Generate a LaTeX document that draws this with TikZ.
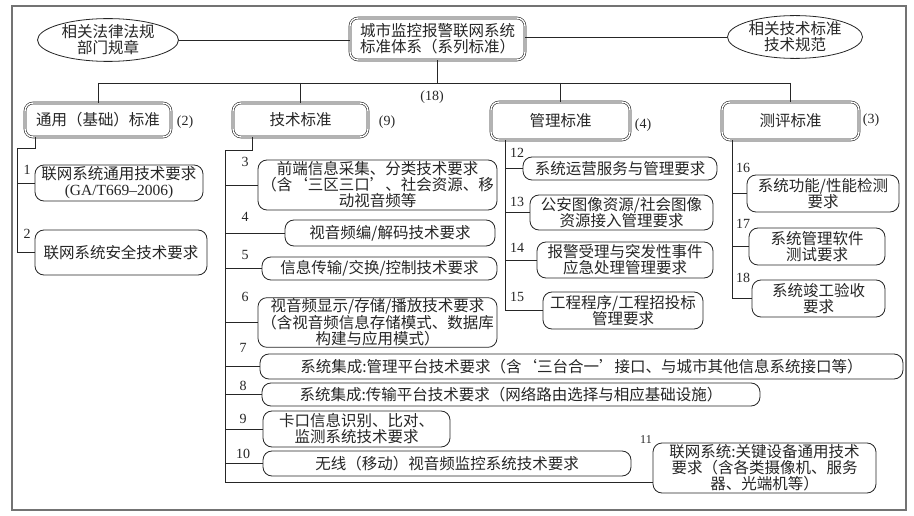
\documentclass[tikz,border=0pt]{standalone}
\usepackage{fontspec}
\setmainfont{Liberation Serif}
\newfontfamily\cjk{Noto Sans CJK SC}
\usetikzlibrary{shapes.geometric}
\definecolor{ink}{gray}{0.15}
\definecolor{framecol}{gray}{0.45}
\tikzset{
  cjkfont/.style={font=\cjk\fontsize{15.5pt}{16pt}\selectfont, text=ink},
  ibox/.style={draw=ink, line width=0.8pt, rounded corners=9pt, inner sep=1pt, align=center, cjkfont},
  cbox/.style={draw=ink, line width=0.6pt, double, double distance=1.4pt, rounded corners=8pt, inner sep=1pt, align=center, cjkfont},
  ebox/.style={draw=ink, line width=0.8pt, ellipse, inner sep=0pt, align=center, cjkfont},
  num/.style={font=\fontsize{14pt}{14pt}\selectfont, text=ink, inner sep=0pt},
  conn/.style={draw=ink, line width=0.8pt}
}
\begin{document}
\begin{tikzpicture}[x=1pt,y=-1pt]
\useasboundingbox (0,0) rectangle (914,516);
\fill[white] (0,0) rectangle (914,516);
\draw[framecol, line width=1.3pt] (12,6) rectangle (906,510);

% top level
\node[cbox, minimum width=175pt, minimum height=42pt] (title) at (437.5,39) {城市监控报警联网系统\\标准体系（系列标准）};
\node[ebox, minimum width=141pt, minimum height=40pt] (e1) at (108,40) {相关法律法规\\部门规章};
\node[ebox, minimum width=135pt, minimum height=40pt] (e2) at (795,37) {相关技术标准\\技术规范};

% categories
\node[cbox, minimum width=146pt, minimum height=34pt] (c1) at (98,120) {通用（基础）标准};
\node[cbox, minimum width=135pt, minimum height=34pt] (c2) at (300.5,120) {技术标准};
\node[cbox, minimum width=139pt, minimum height=38pt] (c3) at (560.5,121) {管理标准};
\node[cbox, minimum width=137pt, minimum height=38pt] (c4) at (790.5,121) {测评标准};

\node[num] (n18) at (432,97) {(18)};
\node[num] (k2) at (185,122) {(2)};
\node[num] (k9) at (387,122) {(9)};
\node[num] (k4) at (643,125) {(4)};
\node[num] (k3) at (871,120) {(3)};

% items: general
\node[ibox, minimum width=168pt, minimum height=36pt] (i1) at (119,183) {联网系统通用技术要求\\{\rmfamily (GA/T669–2006)}};
\node[ibox, minimum width=172pt, minimum height=45pt] (i2) at (121,252.5) {联网系统安全技术要求};

% items: technical
\node[ibox, minimum width=239pt, minimum height=50pt] (i3) at (377.5,185) {前端信息采集、分类技术要求\\（含‘三区三口’、社会资源、移\\动视音频等};
\node[ibox, minimum width=210pt, minimum height=26pt] (i4) at (390,233) {视音频编/解码技术要求};
\node[ibox, minimum width=235pt, minimum height=23pt] (i5) at (379.5,268.5) {信息传输/交换/控制技术要求};
\node[ibox, minimum width=239pt, minimum height=45pt] (i6) at (377.5,322.5) {视音频显示/存储/播放技术要求\\（含视音频信息存储模式、数据库\\构建与应用模式）};
\node[ibox, minimum width=643pt, minimum height=25pt] (i7) at (581.5,366.5) {系统集成:管理平台技术要求（含‘三台合一’接口、与城市其他信息系统接口等）};
\node[ibox, minimum width=498pt, minimum height=23pt] (i8) at (511,394.5) {系统集成:传输平台技术要求（网络路由选择与相应基础设施）};
\node[ibox, minimum width=187pt, minimum height=36pt] (i9) at (356.5,429) {卡口信息识别、比对、\\监测系统技术要求};
\node[ibox, minimum width=368pt, minimum height=25pt] (i10) at (447,463.5) {无线（移动）视音频监控系统技术要求};
\node[ibox, minimum width=223pt, minimum height=50pt] (i11) at (764.5,468) {联网系统:关键设备通用技术\\要求（含各类摄像机、服务\\器、光端机等）};

% items: management
\node[ibox, minimum width=194pt, minimum height=23pt] (i12) at (620,168.5) {系统运营服务与管理要求};
\node[ibox, minimum width=183pt, minimum height=35pt] (i13) at (621.5,212.5) {公安图像资源/社会图像\\资源接入管理要求};
\node[ibox, minimum width=176pt, minimum height=36pt] (i14) at (625,260) {报警受理与突发性事件\\应急处理管理要求};
\node[ibox, minimum width=160pt, minimum height=37pt] (i15) at (623,310.5) {工程程序/工程招投标\\管理要求};

% items: evaluation
\node[ibox, minimum width=152pt, minimum height=37pt] (i16) at (823,193.5) {系统功能/性能检测\\要求};
\node[ibox, minimum width=136pt, minimum height=37pt] (i17) at (817,246.5) {系统管理软件\\测试要求};
\node[ibox, minimum width=133pt, minimum height=37pt] (i18) at (818.5,298.5) {系统竣工验收\\要求};

% item numbers
\node[num] (m1) at (27,170) {1};
\node[num] (m2) at (27,234) {2};
\node[num] (m3) at (245,162) {3};
\node[num] (m4) at (245,217) {4};
\node[num] (m5) at (245,255) {5};
\node[num] (m6) at (245,297) {6};
\node[num] (m7) at (243,348) {7};
\node[num] (m8) at (243,386) {8};
\node[num] (m9) at (243,419) {9};
\node[num] (m10) at (243,454) {10};
\node[num, font=\fontsize{12pt}{12pt}\selectfont] (m11) at (646,440) {11};
\node[num] (m12) at (517,153) {12};
\node[num] (m13) at (517,202) {13};
\node[num] (m14) at (517,248) {14};
\node[num] (m15) at (517,297) {15};
\node[num] (m16) at (743,168) {16};
\node[num] (m17) at (743,224) {17};
\node[num] (m18) at (743,278) {18};

% top connectors
\draw[conn] (e1.east) -- (e1.east -| title.west);
\draw[conn] (e2.west -| title.east) -- (e2.west);
\coordinate (B) at (0,83);
\draw[conn] (title.south) -- (title.south |- B);
\draw[conn] (c1.north |- B) -- (c4.north |- B);
\foreach \c in {c1,c2,c3,c4} \draw[conn] (\c.north |- B) -- (\c.north);

% general branch
\coordinate (L1) at (35,148);
\coordinate (L2) at (17,148);
\draw[conn] (c1.south -| L1) -- (L1) -- (L2) |- (i2.west);
\draw[conn] (L2 |- i1.west) -- (i1.west);

% technical branch
\coordinate (T1) at (252,150);
\coordinate (T2) at (225,150);
\coordinate (T3) at (225,482);
\draw[conn] (c2.south -| T1) -- (T1) -- (T2) -- (T3) -- (T3 -| i11.west);
\foreach \n in {3,...,10} \draw[conn] (T2 |- i\n.west) -- (i\n.west);

% management branch
\coordinate (M1) at (505,0);
\draw[conn] (c3.south -| M1) |- (i15.west);
\foreach \n in {12,13,14} \draw[conn] (M1 |- i\n.west) -- (i\n.west);

% evaluation branch
\coordinate (E1) at (732,0);
\draw[conn] (c4.south -| E1) |- (i18.west);
\foreach \n in {16,17} \draw[conn] (E1 |- i\n.west) -- (i\n.west);
\end{tikzpicture}
\end{document}
